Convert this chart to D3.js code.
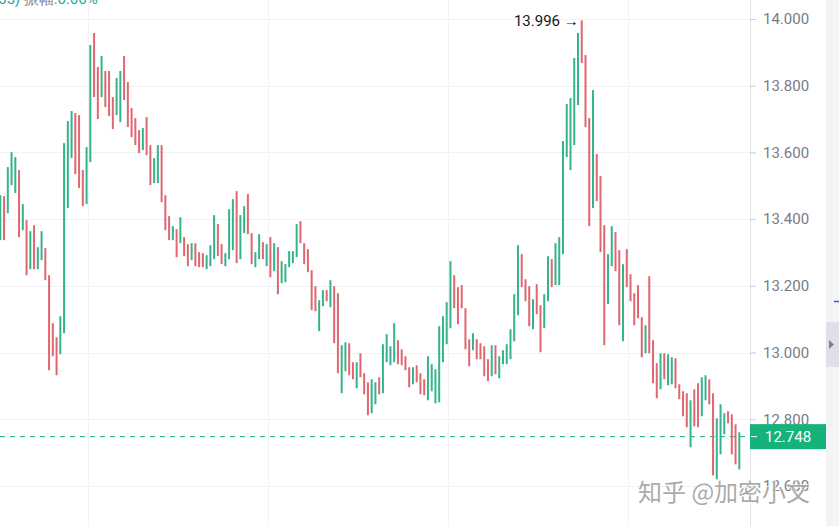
<!DOCTYPE html>
<html><head><meta charset="utf-8">
<script src="https://cdn.jsdelivr.net/npm/d3@7"></script>
<style>
html,body{margin:0;padding:0;background:#fff;overflow:hidden;}
svg{display:block;font-family:Roboto,"Noto Sans",sans-serif;}
</style></head>
<body>
<svg id="c" width="839" height="526"></svg>
<script>
const highs = [
13.472,13.469,13.556,13.601,13.586,13.547,13.445,13.397,13.364,13.382,
13.316,13.364,13.313,13.232,13.088,13.046,13.109,13.628,13.694,13.724,
13.718,13.712,13.547,13.616,13.922,13.958,13.856,13.889,13.844,13.844,
13.766,13.823,13.844,13.889,13.811,13.733,13.703,13.667,13.673,13.706,
13.622,13.583,13.622,13.622,13.472,13.409,13.379,13.370,13.406,13.346,
13.325,13.328,13.328,13.301,13.298,13.292,13.322,13.412,13.385,13.325,
13.298,13.430,13.460,13.484,13.412,13.439,13.475,13.358,13.301,13.355,
13.331,13.325,13.346,13.328,13.316,13.274,13.265,13.304,13.304,13.385,
13.394,13.328,13.310,13.247,13.199,13.157,13.187,13.187,13.217,13.199,
13.178,13.022,13.031,13.028,12.971,12.971,12.998,12.938,12.911,12.920,
12.911,12.926,13.025,13.055,13.019,13.088,13.037,13.010,12.989,12.956,
12.956,12.962,12.938,12.920,12.989,12.965,12.950,13.079,13.109,13.151,
13.274,13.232,13.196,13.202,13.133,13.040,13.058,13.040,13.028,13.019,
12.980,13.022,13.022,12.989,13.007,13.025,13.070,13.175,13.322,13.295,
13.220,13.199,13.160,13.205,13.142,13.175,13.289,13.280,13.328,13.346,
13.634,13.745,13.763,13.883,13.958,13.996,13.892,13.703,13.787,13.595,
13.529,13.382,13.295,13.379,13.361,13.307,13.265,13.310,13.235,13.178,
13.202,13.106,13.082,13.229,13.037,12.968,12.998,12.998,12.995,12.986,
12.983,12.905,12.884,12.878,12.857,12.890,12.908,12.926,12.932,12.920,
12.878,12.803,12.845,12.818,12.824,12.815,12.785,12.761];
const lows = [
13.337,13.337,13.418,13.502,13.478,13.346,13.367,13.232,13.250,13.250,
13.250,13.277,13.217,12.947,12.989,12.932,12.995,13.058,13.433,13.583,
13.535,13.493,13.439,13.445,13.571,13.766,13.700,13.766,13.736,13.709,
13.670,13.712,13.691,13.757,13.676,13.646,13.622,13.598,13.607,13.592,
13.502,13.508,13.508,13.451,13.367,13.337,13.337,13.286,13.328,13.289,
13.259,13.277,13.259,13.256,13.256,13.250,13.259,13.280,13.289,13.265,
13.259,13.280,13.307,13.268,13.280,13.358,13.355,13.265,13.256,13.280,
13.280,13.259,13.226,13.244,13.175,13.208,13.211,13.256,13.268,13.286,
13.328,13.265,13.241,13.127,13.124,13.064,13.139,13.154,13.136,13.028,
12.938,12.878,12.944,12.932,12.920,12.893,12.926,12.875,12.812,12.818,
12.845,12.875,12.878,12.971,12.962,12.971,12.965,12.962,12.947,12.896,
12.905,12.911,12.875,12.872,12.857,12.884,12.848,12.851,12.971,13.025,
13.073,13.133,13.085,13.133,13.010,12.959,13.007,12.980,12.980,12.929,
12.914,12.929,12.935,12.923,12.965,12.965,12.980,13.034,13.112,13.196,
13.154,13.079,13.070,13.115,13.001,13.073,13.154,13.196,13.202,13.202,
13.295,13.586,13.547,13.622,13.742,13.868,13.676,13.379,13.433,13.454,
13.301,13.022,13.145,13.259,13.244,13.082,13.034,13.196,13.154,13.082,
13.103,12.986,12.998,12.998,12.908,12.863,12.890,12.920,12.902,12.905,
12.893,12.860,12.809,12.776,12.716,12.779,12.776,12.809,12.857,12.845,
12.632,12.620,12.695,12.755,12.788,12.695,12.665,12.650];
// 1 = rising (green) candle, 0 = falling (red) candle
const up = [
1,0,1,1,1,0,1,0,1,0, 1,1,0,0,0,0,1,1,1,1, 0,0,0,1,1,0,0,1,0,0,
0,1,1,0,0,0,0,0,1,0, 0,1,1,0,0,0,1,0,1,0, 0,1,0,0,0,1,1,1,0,0,
1,1,1,0,1,1,0,0,1,1, 0,1,0,1,0,1,1,1,1,1, 0,0,0,0,0,1,1,0,1,0,
0,1,1,0,0,1,0,0,0,1, 1,0,1,1,1,1,0,0,0,0, 1,0,0,0,1,1,1,1,1,1,
1,0,0,0,0,0,1,0,0,0, 0,1,0,1,1,1,1,1,1,0, 0,0,1,0,0,1,1,0,1,1,
1,1,1,1,1,0,0,0,1,0, 0,0,1,1,0,0,1,0,0,0, 0,0,1,0,0,0,1,0,1,1,
0,0,0,0,1,0,0,1,1,0, 0,1,1,1,0,0,0,1];
const yTicks = [12.6, 12.8, 13.0, 13.2, 13.4, 13.6, 13.8, 14.0];
const timeGridIdx = [23.4, 71.4, 119.4, 167.4];
const lastPrice = 12.748;
const maxPrice = 13.996;
const maxIdx = 155;
const headerParts = [["55)", "#26a69a"], [" 振幅:", "#888"], ["0.66%", "#26a69a"]];
const watermark = "知乎 @加密小文";

const W = 839, H = 526, axisX = 750;
const green = "#33b48c", red = "#e0666f";
const svg = d3.select("#c");
const x = d3.scaleLinear().domain([0, highs.length - 1]).range([0.3, 739.3]);
const y = d3.scaleLinear().domain([12.6, 14.0]).range([486, 19]);

// grid
svg.append("g").selectAll("line").data(yTicks).join("line")
  .attr("x1", 0).attr("x2", axisX).attr("y1", d => Math.round(y(d)) + 0.5).attr("y2", d => Math.round(y(d)) + 0.5)
  .attr("stroke", "#f1f2f5");
svg.append("g").selectAll("line").data(timeGridIdx).join("line")
  .attr("x1", d => Math.round(x(d)) + 0.5).attr("x2", d => Math.round(x(d)) + 0.5).attr("y1", 0).attr("y2", H)
  .attr("stroke", "#f1f2f5");

// header (cut off at top)
const ht = svg.append("text").attr("x", -2).attr("y", 4).attr("font-size", 15);
headerParts.forEach(p => ht.append("tspan").attr("fill", p[1]).text(p[0]));

// last price dashed line
svg.append("line").attr("x1", 0).attr("x2", axisX)
  .attr("y1", y(lastPrice)).attr("y2", y(lastPrice))
  .attr("stroke", "#17b27c").attr("stroke-width", 1).attr("stroke-dasharray", "5,5");

// candles
const idx = d3.range(highs.length);
svg.append("g").selectAll("rect").data(idx).join("rect")
  .attr("x", i => x(i) - 1).attr("width", 2)
  .attr("y", i => y(highs[i])).attr("height", i => Math.max(1, y(lows[i]) - y(highs[i])))
  .attr("fill", i => up[i] ? green : red);

// max annotation
svg.append("text").attr("x", x(maxIdx) - 3).attr("y", y(maxPrice))
  .attr("dy", "0.35em").attr("text-anchor", "end").attr("font-size", 15).attr("fill", "#131722")
  .text(d3.format(".3f")(maxPrice) + " \u2192");

// right axis
svg.append("rect").attr("x", axisX).attr("y", 0).attr("width", 76).attr("height", H).attr("fill", "#fff");
svg.append("line").attr("x1", axisX + 0.5).attr("x2", axisX + 0.5).attr("y1", 0).attr("y2", H).attr("stroke", "#e0e3eb");
const axis = d3.axisRight(y).tickValues(yTicks).tickFormat(d3.format(".3f")).tickSize(6).tickPadding(7);
const ag = svg.append("g").attr("transform", `translate(${axisX},0)`).call(axis);
ag.select(".domain").remove();
ag.selectAll(".tick line").attr("stroke", "#c8cbd2");
ag.selectAll(".tick text").attr("fill", "#787b86").attr("font-size", 15).attr("font-family", "Roboto,'Noto Sans',sans-serif");

// last price label
const ly = y(lastPrice);
svg.append("rect").attr("x", axisX).attr("y", ly - 12.5).attr("width", 76).attr("height", 25).attr("fill", "#16b27b");
svg.append("line").attr("x1", axisX + 1).attr("x2", axisX + 7).attr("y1", ly).attr("y2", ly).attr("stroke", "#fff");
svg.append("text").attr("x", axisX + 15).attr("y", ly).attr("dy", "0.35em").attr("font-size", 15).attr("fill", "#fff")
  .text(d3.format(".3f")(lastPrice));

// right side panel
svg.append("rect").attr("x", 826).attr("y", 0).attr("width", 13).attr("height", H).attr("fill", "#f3f4f7");
svg.append("rect").attr("x", 826).attr("y", 322).attr("width", 13).attr("height", 45).attr("fill", "#dfe1e6");
svg.append("path").attr("d", "M829,340 L834,344.5 L829,349 Z").attr("fill", "#7d8290");
svg.append("line").attr("x1", 834).attr("x2", 839).attr("y1", 301.5).attr("y2", 301.5).attr("stroke", "#2962ff").attr("stroke-width", 1.5);

// watermark
svg.append("text").attr("x", 638).attr("y", 501).attr("font-size", 24)
  .attr("font-family", "'Noto Sans CJK SC',sans-serif")
  .attr("fill", "#9b9b9b").attr("fill-opacity", 0.85)
  .attr("stroke", "#fff").attr("stroke-width", 2).attr("stroke-opacity", 0.7).attr("paint-order", "stroke")
  .text(watermark);
</script>
</body></html>
